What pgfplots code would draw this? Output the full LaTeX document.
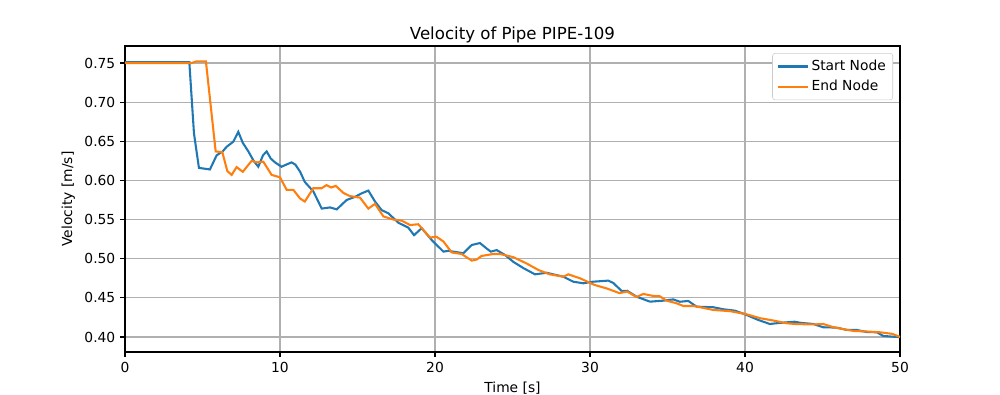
\documentclass[border=0pt]{standalone}
\usepackage{pgfplots}
\pgfplotsset{compat=1.18}
\usepackage{fontspec}
\setmainfont{DejaVu Sans}
\definecolor{mplblue}{HTML}{1F77B4}
\definecolor{mplorange}{HTML}{FF7F0E}
\definecolor{gridgray}{HTML}{B0B0B0}
\begin{document}
\begin{tikzpicture}[x=1in,y=1in]
\path[use as bounding box] (0,0) rectangle (10,3.95);
\begin{axis}[
  at={(1.25in,0.43in)}, anchor=south west,
  scale only axis, width=7.75in, height=3.06in,
  xmin=0, xmax=50, ymin=0.3808, ymax=0.7717,
  xtick={0,10,20,30,40,50},
  ytick={0.40,0.45,0.50,0.55,0.60,0.65,0.70,0.75},
  yticklabel style={/pgf/number format/.cd,fixed,fixed zerofill,precision=2},
  /pgf/number format/assume math mode=true,
  tick label style={font=\fontsize{10}{12}\selectfont},
  label style={font=\fontsize{10}{12}\selectfont},
  title style={font=\fontsize{12}{14}\selectfont, yshift=-7pt},
  title={Velocity of Pipe PIPE-109},
  xlabel={Time [s]}, ylabel={Velocity [m/s]},
  grid=major, major grid style={gridgray, line width=0.8pt},
  axis line style={line width=0.8pt},
  tick style={black, line width=0.8pt},
  tick align=outside, major tick length=3.5pt,
  xtick pos=bottom, ytick pos=left,
  legend style={at={(0.991,0.977)}, anchor=north east, draw=black!20, rounded corners=2pt,
    font=\fontsize{10}{12}\selectfont, row sep=1.5pt, inner sep=3pt},
  legend cell align=left,
  legend image code/.code={\draw[#1] (0cm,0cm) -- (0.3in,0cm);},
]
\addplot[mplblue, line width=1.5pt] coordinates {
(0,0.751)(4.15,0.751)(4.45,0.66)(4.77,0.616)(5.48,0.614)(5.91,0.632)(6.3,0.637)(6.56,0.643)(6.99,0.6495)(7.31,0.662)(7.6,0.648)(7.96,0.637)(8.3,0.625)(8.6,0.6175)(8.9,0.632)(9.14,0.637)(9.4,0.628)(9.68,0.623)(10.1,0.6175)(10.5,0.621)(10.75,0.623)(11.0,0.620)(11.3,0.611)(11.6,0.598)(12.15,0.586)(12.69,0.564)(13.23,0.5655)(13.66,0.563)(14.3,0.575)(14.84,0.579)(15.27,0.5835)(15.7,0.587)(16.13,0.573)(16.56,0.562)(16.99,0.558)(17.63,0.546)(18.28,0.5396)(18.65,0.530)(19.14,0.539)(19.78,0.524)(20.54,0.509)(20.85,0.510)(21.83,0.507)(22.37,0.5175)(22.9,0.520)(23.33,0.513)(23.6,0.509)(23.98,0.511)(24.52,0.5047)(25.05,0.496)(25.7,0.488)(26.45,0.480)(27.2,0.482)(28.28,0.477)(28.92,0.4706)(29.57,0.4686)(30.2,0.4706)(31.18,0.472)(31.5,0.469)(32.04,0.4588)(32.4,0.459)(33.0,0.4515)(33.87,0.4451)(34.73,0.4464)(35.37,0.448)(35.8,0.445)(36.34,0.446)(36.88,0.4387)(37.95,0.438)(38.6,0.4354)(39.35,0.4336)(40.0,0.429)(40.86,0.4217)(41.6,0.4166)(42.26,0.418)(43.2,0.4195)(43.6,0.418)(44.4,0.4166)(45.05,0.4124)(45.9,0.412)(46.56,0.409)(47.2,0.409)(47.85,0.4063)(48.5,0.406)(48.92,0.4013)(49.8,0.400)(50,0.400)
};
\addlegendentry{Start Node}
\addplot[mplorange, line width=1.5pt] coordinates {
(0,0.75)(4.3,0.75)(4.6,0.752)(5.22,0.752)(5.85,0.637)(6.28,0.636)(6.6,0.612)(6.88,0.607)(7.2,0.617)(7.6,0.611)(8.17,0.625)(8.5,0.623)(8.92,0.624)(9.46,0.607)(10.0,0.604)(10.43,0.588)(10.86,0.588)(11.29,0.577)(11.6,0.573)(12.15,0.590)(12.69,0.590)(13.0,0.594)(13.3,0.591)(13.6,0.593)(14.09,0.584)(14.5,0.580)(15.16,0.578)(15.7,0.564)(16.13,0.570)(16.67,0.554)(17.31,0.550)(17.85,0.5486)(18.39,0.543)(18.92,0.544)(19.68,0.527)(20.1,0.528)(20.54,0.522)(21.08,0.508)(21.72,0.506)(22.37,0.4975)(22.7,0.499)(23.0,0.5035)(23.76,0.506)(24.19,0.506)(25.05,0.502)(25.9,0.494)(26.67,0.4856)(27.4,0.480)(28.28,0.477)(28.6,0.480)(29.35,0.475)(30.3,0.4664)(31.08,0.462)(31.9,0.456)(32.4,0.458)(33.0,0.451)(33.44,0.455)(34.08,0.4524)(34.5,0.452)(34.94,0.4464)(35.59,0.443)(36.02,0.4396)(36.66,0.4396)(37.1,0.438)(37.95,0.4345)(39.03,0.433)(40.1,0.429)(40.97,0.424)(41.83,0.421)(42.69,0.4175)(43.3,0.4165)(44.4,0.416)(45.05,0.4166)(45.7,0.4124)(46.99,0.4077)(47.85,0.407)(48.7,0.406)(49.5,0.404)(50,0.400)
};
\addlegendentry{End Node}
\end{axis}
\end{tikzpicture}
\end{document}
